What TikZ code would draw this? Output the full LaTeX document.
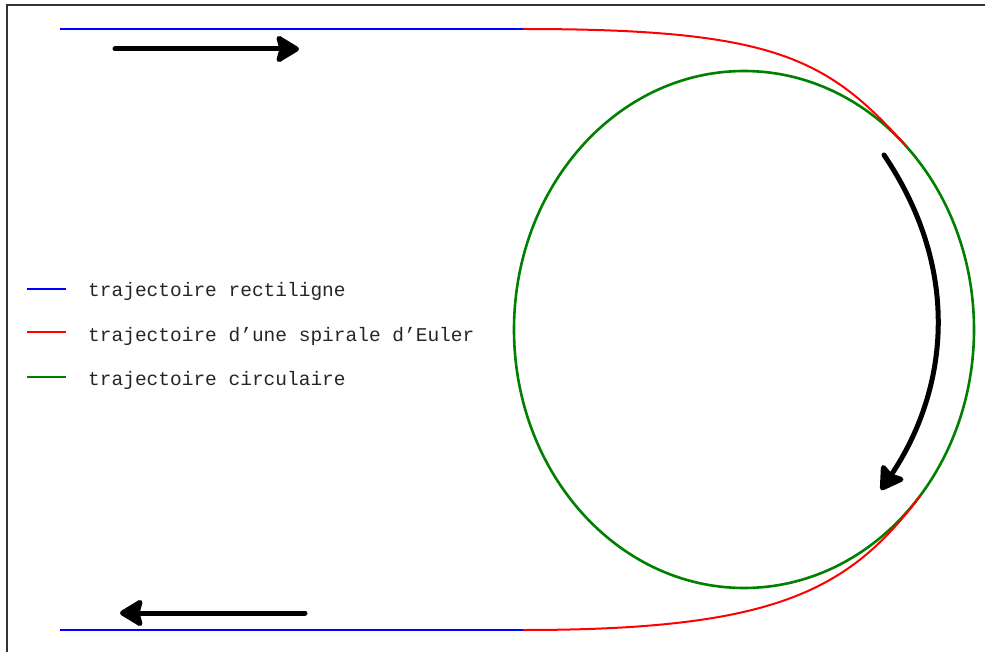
\documentclass[tikz,border=0pt]{standalone}
\usepackage{fontspec}
\newfontfamily\legendfont{Liberation Mono}
\usetikzlibrary{arrows.meta}
\definecolor{pathgreen}{RGB}{0,128,0}
\tikzset{
  straight/.style={blue, line width=2pt},
  euler/.style={red, line width=2pt},
  circ/.style={pathgreen, line width=2.6pt},
  motion/.style={black, line width=5pt, line cap=round,
    -{Stealth[length=26pt, width=31pt, inset=4pt, round]}},
  legtext/.style={anchor=base west, inner sep=0pt, font=\legendfont\fontsize{19.5}{22}\selectfont, text=black!85},
  frameline/.style={black!80, line width=2pt}
}
\begin{document}
\begin{tikzpicture}[x=1pt, y=-1pt]
\useasboundingbox (0,0) rectangle (985,652);
\fill[white] (0,0) rectangle (985,652);
% frame (top and left only)
\coordinate (ftl) at (7,5);
\coordinate (ftr) at (985,5);
\coordinate (fbl) at (7,652);
\draw[frameline] (ftr) -- (ftl) -- (fbl);

% straight paths
\coordinate (t0) at (60,29);
\coordinate (t1) at (523,29);
\coordinate (b0) at (60,630);
\coordinate (b1) at (523,630);
\draw[straight] (t0) -- (t1);
\draw[straight] (b0) -- (b1);

% circular path
\coordinate (c) at (744,329.5);
\draw[circ] (c) ellipse [x radius=230pt, y radius=258.5pt];

% Euler spirals
\coordinate (te) at (906.6,146.7);
\coordinate (be) at (920.2,495.7);
\draw[euler] (t1) .. controls (773,29) and (826.8,57.1) .. (te);
\draw[euler] (b1) .. controls (773,630) and (848.4,591.8) .. (be);

% motion arrows
\coordinate (a1s) at (115,49);
\coordinate (a1e) at (299,49);
\draw[motion] (a1s) -- (a1e);
\coordinate (a2s) at (305,613);
\coordinate (a2e) at (120,613);
\draw[motion] (a2s) -- (a2e);
\coordinate (a3s) at (884,155);
\coordinate (a3e) at (881,490);
\draw[motion] (a3s) .. controls (965,275) and (945,395) .. (a3e);

% legend
\coordinate (l1a) at (27,289); \coordinate (l1b) at (66,289);
\coordinate (l2a) at (27,332); \coordinate (l2b) at (66,332);
\coordinate (l3a) at (27,377); \coordinate (l3b) at (66,377);
\draw[straight] (l1a) -- (l1b);
\draw[euler] (l2a) -- (l2b);
\draw[pathgreen, line width=2pt] (l3a) -- (l3b);
\node[legtext] (t1txt) at (88,297) {trajectoire rectiligne};
\node[legtext] (t2txt) at (88,341.5) {trajectoire d’une spirale d’Euler};
\node[legtext] (t3txt) at (88,385.5) {trajectoire circulaire};
\end{tikzpicture}
\end{document}
